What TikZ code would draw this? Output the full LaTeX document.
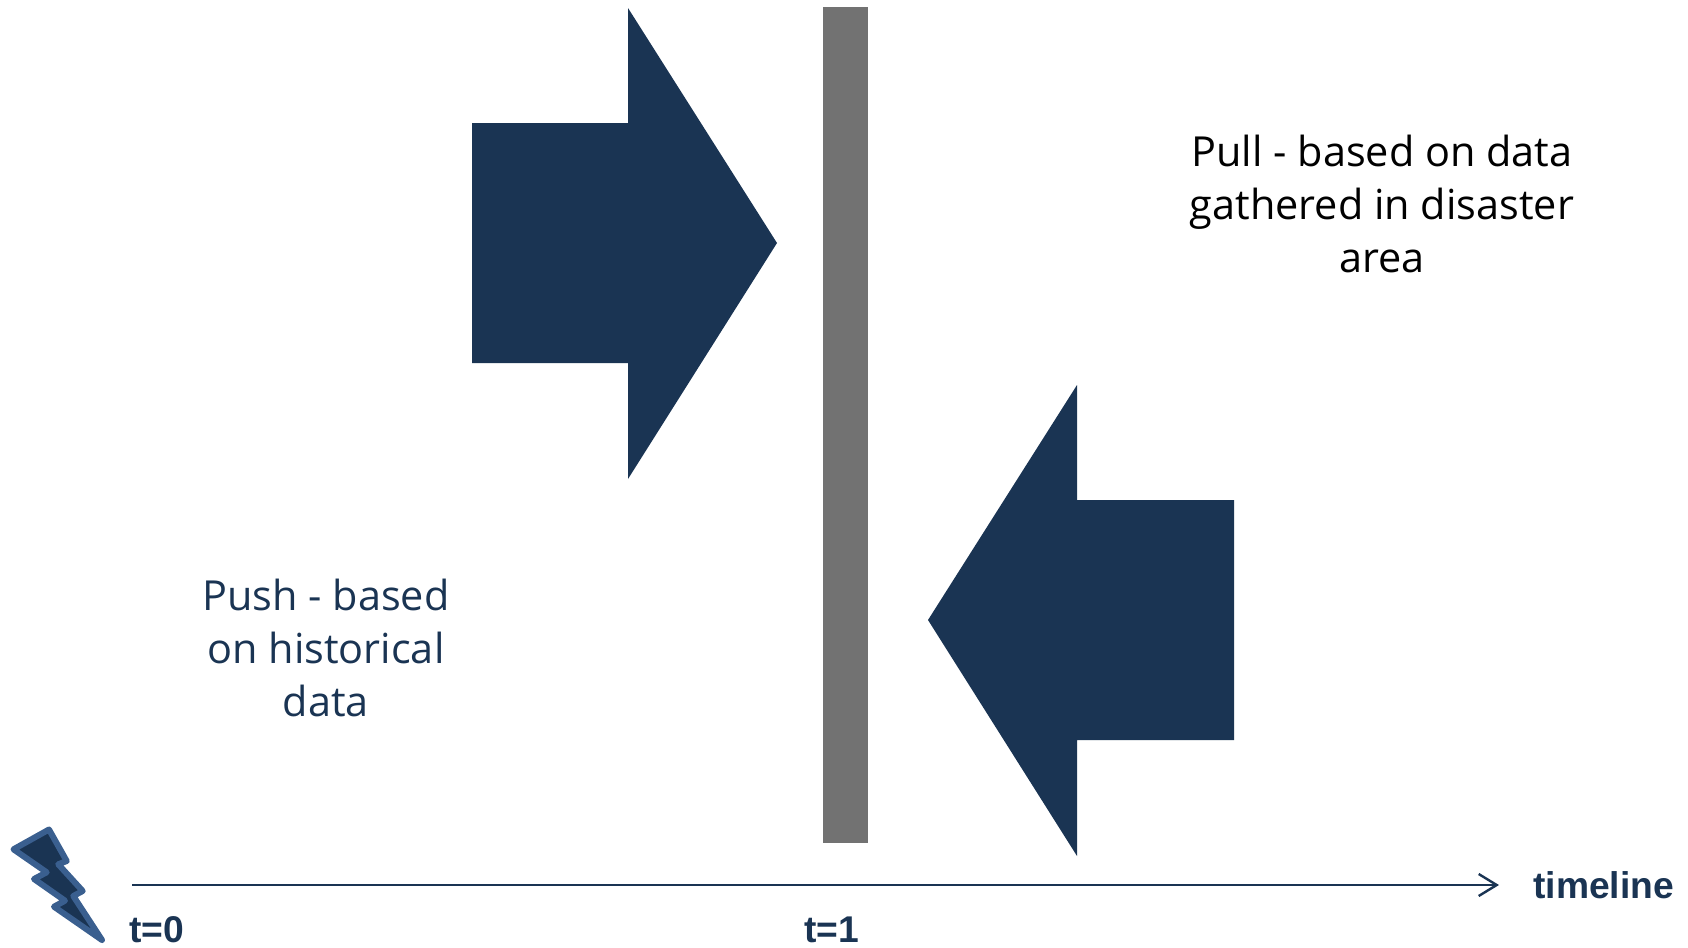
\documentclass[tikz,border=0pt]{standalone}
\usepackage{fontspec}
\setmainfont{Open Sans}
\newfontfamily\labelfont{Liberation Sans}
\usetikzlibrary{arrows.meta,positioning}
\definecolor{navyfill}{HTML}{1A3453}
\definecolor{boltedge}{HTML}{3A5F8F}
\definecolor{bargray}{HTML}{727272}
\tikzset{
  bigarrow/.style={fill=navyfill,draw=none},
  sidetext/.style={align=center,font=\fontsize{20.7}{26.3}\selectfont,inner sep=0pt},
  ticktext/.style={font=\labelfont\bfseries\fontsize{18.6}{22}\selectfont,text=navyfill,inner sep=0pt},
}

\begin{document}
\begin{tikzpicture}[x=0.5pt,y=-0.5pt]
\useasboundingbox (0,0) rectangle (1688,948);

% arrows and wall
\fill[bigarrow] (472,123) -- (628,123) -- (628,8) -- (777,243) -- (628,479) -- (628,363) -- (472,363) -- cycle;
\fill[bigarrow] (928,620) -- (1077,385) -- (1077,500) -- (1234,500) -- (1234,740) -- (1077,740) -- (1077,856) -- cycle;
\fill[bargray] (823,7) rectangle (868,843);

% bolt
\draw[fill=navyfill,draw=boltedge,line width=3pt,line join=round]
  (49,829.5) -- (66.7,861) -- (58.3,864.3) -- (82.7,891) -- (73.3,896) -- (102,940)
  -- (54,906.7) -- (65,900.7) -- (34,879) -- (46.7,872.3) -- (13.5,849.3) -- cycle;

% text
\node[sidetext,text=navyfill] (push) at (326,648) {Push - based\\on historical\\data};
\node[sidetext,text=black] (pull) at (1382,204) {Pull - based on data\\gathered in disaster\\area};

% timeline
\coordinate (tstart) at (132,885);
\node[ticktext,anchor=west] (tlabel) at (1533,885) {timeline};
\coordinate (tend) at (1499,885);
\draw[navyfill,line width=1.2pt,-{Straight Barb[length=9pt,width=11pt,line width=1.2pt]}] (tstart) -- (tend);
\node[ticktext,anchor=west] (t0) at (129,930) {t=0};
\node[ticktext] (t1) at (832,930) {t=1};

\end{tikzpicture}
\end{document}
